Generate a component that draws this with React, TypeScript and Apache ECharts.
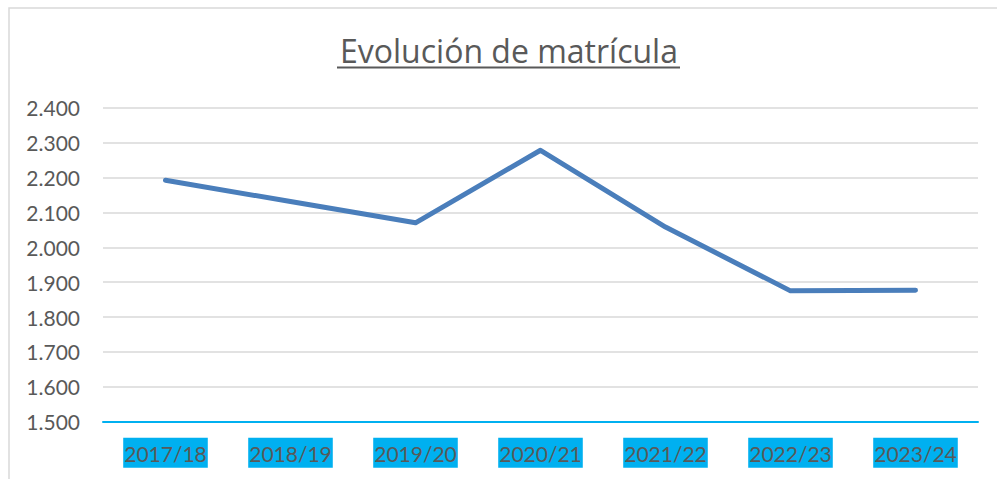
import React, { useEffect, useRef } from "react";
import * as echarts from "echarts";

const categories = ["2017/18", "2018/19", "2019/20", "2020/21", "2021/22", "2022/23", "2023/24"];
const matricula = [2192, 2131, 2070, 2278, 2058, 1875, 1877];
const yMin = 1500;
const yMax = 2400;
const yStep = 100;
const titleText = "Evolución de matrícula";

const fmt = (v: number) => {
  const t = Math.floor(v / 1000);
  const r = String(Math.round(v % 1000)).padStart(3, "0");
  return t > 0 ? `${t}.${r}` : String(v);
};

export default function App() {
  const ref = useRef<HTMLDivElement>(null);
  useEffect(() => {
    if (!ref.current) return;
    const chart = echarts.init(ref.current, null, { renderer: "svg" });
    chart.setOption({
      animation: false,
      backgroundColor: "#ffffff",
      textStyle: { fontFamily: "Lato" },
      title: {
        text: titleText,
        left: 335,
        top: 29,
        textStyle: { fontFamily: "Open Sans", fontSize: 32, fontWeight: "normal", color: "#595959" },
      },
      graphic: [
        {
          type: "rect",
          shape: { x: 9, y: 8, width: 1200, height: 800 },
          style: { fill: "none", stroke: "#D9D9D9", lineWidth: 1.5 },
          silent: true,
          z: -1,
        },
        {
          type: "line",
          shape: { x1: 337, y1: 67.5, x2: 680, y2: 67.5 },
          style: { stroke: "#595959", lineWidth: 2 },
          silent: true,
        },
      ],
      grid: { left: 103, right: 19, top: 107.7, bottom: 57.3 },
      xAxis: {
        type: "category",
        data: categories,
        boundaryGap: true,
        axisLine: { show: true, lineStyle: { color: "#00B0F0", width: 2 } },
        axisTick: { show: false },
        axisLabel: {
          color: "#595959",
          fontFamily: "Lato",
          fontSize: 21,
          lineHeight: 21,
          backgroundColor: "#00B0F0",
          padding: [5, 1, 4, 1],
          margin: 16,
        },
        splitLine: { show: false },
      },
      yAxis: {
        type: "value",
        min: yMin,
        max: yMax,
        interval: yStep,
        axisLine: { show: false },
        axisTick: { show: false },
        axisLabel: {
          color: "#595959",
          fontFamily: "Lato",
          fontSize: 21,
          margin: 23,
          formatter: (v: number) => fmt(v),
        },
        splitLine: { show: true, lineStyle: { color: "#D9D9D9", width: 1.5 } },
      },
      series: [
        {
          type: "line",
          data: matricula,
          showSymbol: false,
          symbol: "none",
          lineStyle: { color: "#4A7EBB", width: 5, cap: "round", join: "round" },
        },
      ],
    });
    return () => chart.dispose();
  }, []);
  return (
    <div
      ref={ref}
      style={{ position: "fixed", left: 0, top: 0, width: 997, height: 479 }}
    />
  );
}
